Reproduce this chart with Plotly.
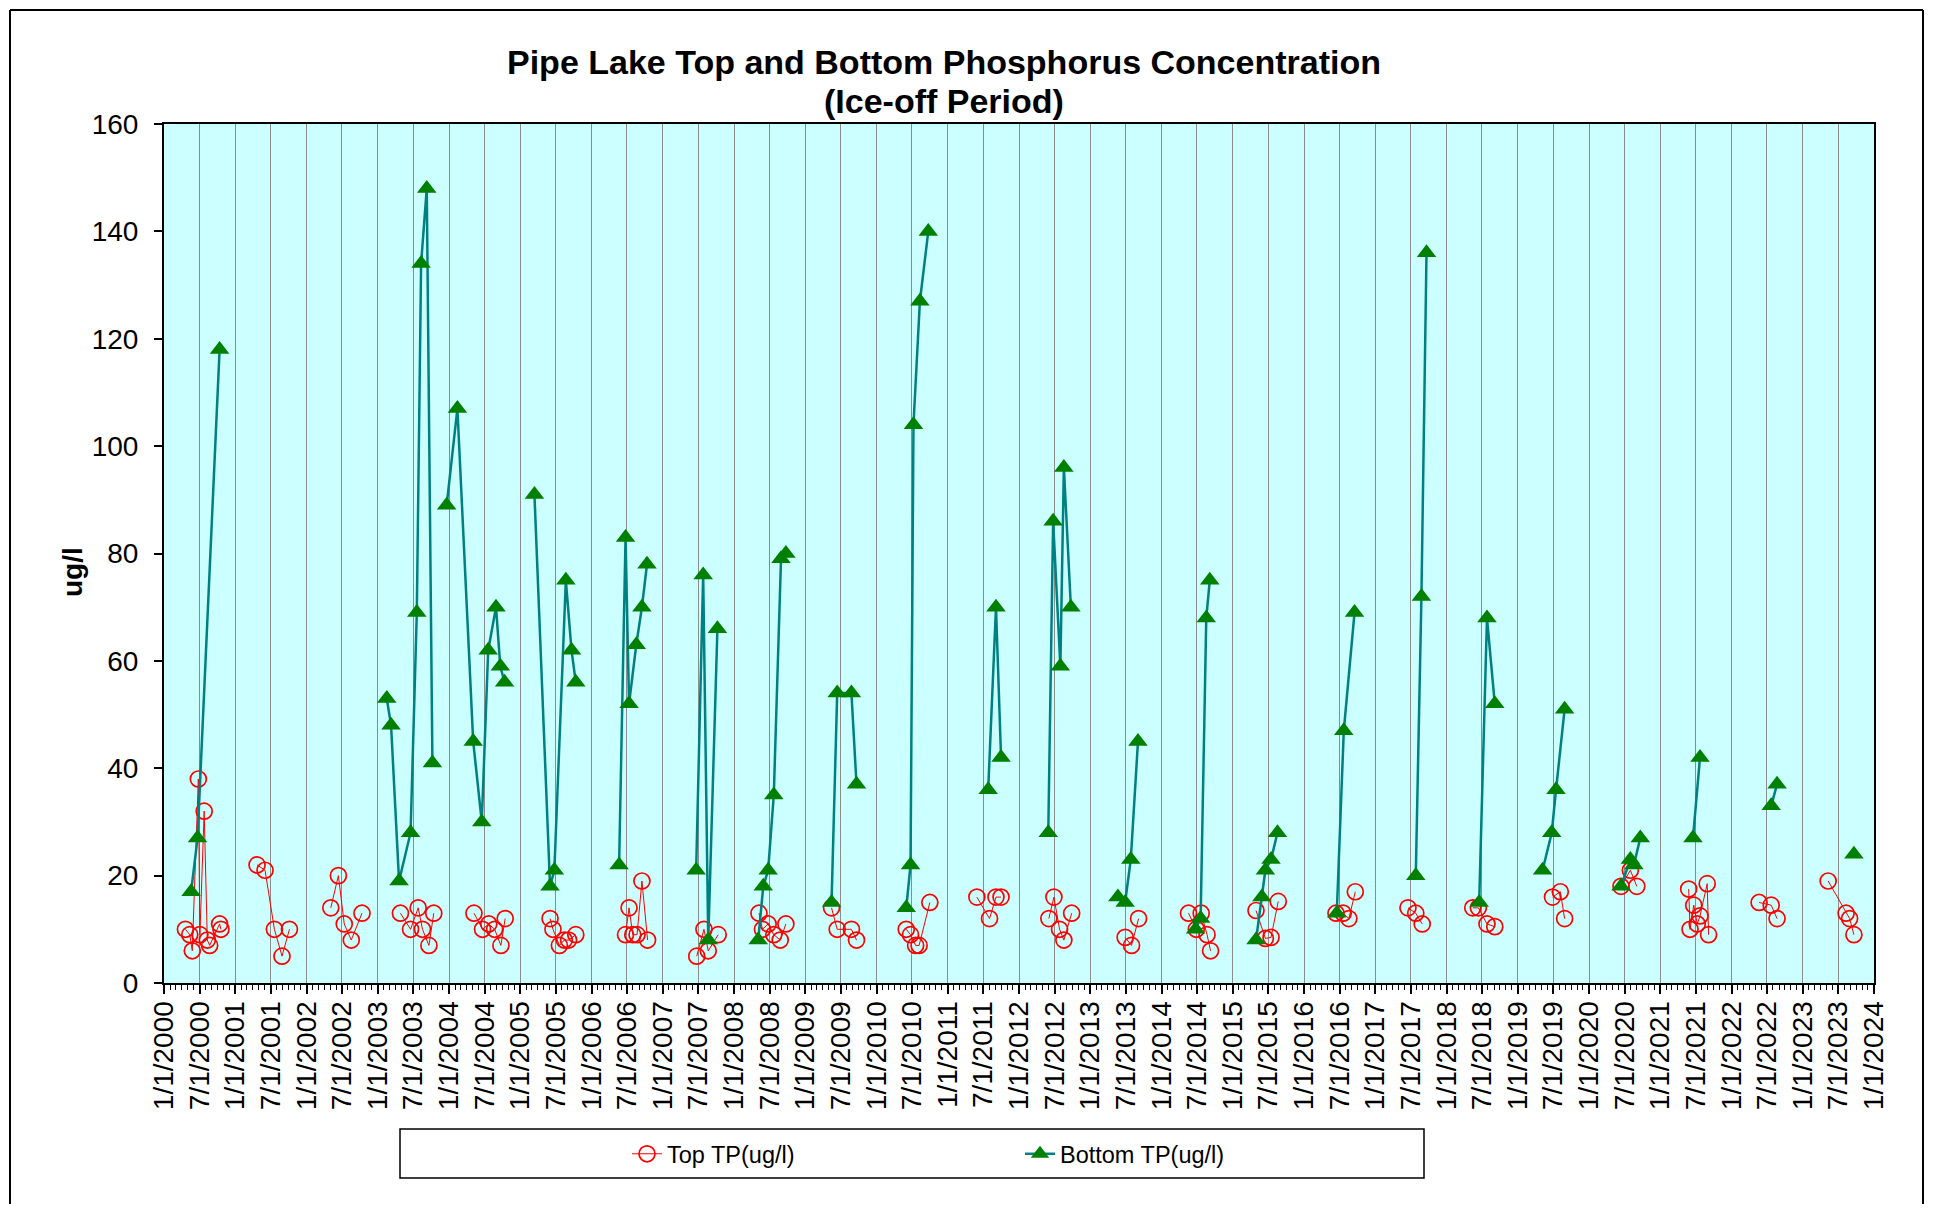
import plotly.graph_objects as go

# ---------------- data (None marks a break between seasons) ----------------
top_dates = [
    "2000-04-20", "2000-05-12", "2000-05-25", "2000-06-25", "2000-07-03", "2000-07-25",
    "2000-08-10", "2000-08-22", "2000-10-12", "2000-10-19", "2000-12-31",
    "2001-04-22", "2001-06-02", "2001-07-20", "2001-08-28", "2001-10-05", "2001-12-31",
    "2002-05-05", "2002-06-13", "2002-07-13", "2002-08-18", "2002-10-12", "2002-12-31",
    "2003-04-27", "2003-06-18", "2003-07-27", "2003-08-18", "2003-09-20", "2003-10-15", "2003-12-31",
    "2004-05-08", "2004-06-21", "2004-07-23", "2004-08-22", "2004-09-23", "2004-10-15", "2004-12-31",
    "2005-06-02", "2005-06-17", "2005-07-20", "2005-08-14", "2005-09-05", "2005-10-12", "2005-12-31",
    "2006-06-24", "2006-07-12", "2006-07-31", "2006-08-22", "2006-09-16", "2006-10-15", "2006-12-31",
    "2007-06-24", "2007-07-31", "2007-08-22", "2007-10-12", "2007-12-31",
    "2008-05-08", "2008-05-26", "2008-06-24", "2008-07-23", "2008-08-25", "2008-09-23", "2008-12-31",
    "2009-05-15", "2009-06-13", "2009-08-25", "2009-09-20", "2009-12-31",
    "2010-06-02", "2010-06-24", "2010-07-20", "2010-08-07", "2010-10-01", "2010-12-31",
    "2011-05-30", "2011-08-03", "2011-09-05", "2011-10-01", "2011-12-31",
    "2012-06-02", "2012-06-28", "2012-07-27", "2012-08-18", "2012-09-27", "2012-12-31",
    "2013-06-28", "2013-07-31", "2013-09-05", "2013-12-31",
    "2014-05-19", "2014-06-28", "2014-07-23", "2014-08-22", "2014-09-09", "2014-12-31",
    "2015-04-30", "2015-06-17", "2015-07-16", "2015-08-22", "2015-12-31",
    "2016-06-13", "2016-07-20", "2016-08-18", "2016-09-20", "2016-12-31",
    "2017-06-17", "2017-07-27", "2017-08-29", "2017-12-31",
    "2018-05-15", "2018-06-13", "2018-07-27", "2018-09-05", "2018-12-31",
    "2019-06-28", "2019-08-07", "2019-08-29", "2019-12-31",
    "2020-06-13", "2020-07-31", "2020-09-02", "2020-12-31",
    "2021-05-26", "2021-06-02", "2021-06-21", "2021-07-09", "2021-07-23", "2021-08-29", "2021-09-05",
    "2021-12-31",
    "2022-05-22", "2022-07-23", "2022-08-22", "2022-12-31",
    "2023-05-11", "2023-08-11", "2023-08-29", "2023-09-20",
]
top_vals = [
    10, 9, 6, 38, 9, 32, 8, 7, 11, 10, None,
    22, 21, 10, 5, 10, None,
    14, 20, 11, 8, 13, None,
    13, 10, 14, 10, 7, 13, None,
    13, 10, 11, 10, 7, 12, None,
    12, 10, 7, 8, 8, 9, None,
    9, 14, 9, 9, 19, 8, None,
    5, 10, 6, 9, None,
    13, 10, 11, 9, 8, 11, None,
    14, 10, 10, 8, None,
    10, 9, 7, 7, 15, None,
    16, 12, 16, 16, None,
    12, 16, 10, 8, 13, None,
    8.5, 7, 12, None,
    13, 10, 13, 9, 6, None,
    13.5, 8.3, 8.5, 15.2, None,
    13, 13, 12, 17, None,
    14, 13, 11, None,
    14, 14, 11, 10.5, None,
    16, 17, 12, None,
    18, 21, 18, None,
    17.5, 10, 14.5, 11, 12.5, 18.5, 9, None,
    15, 14.5, 12, None,
    19, 13, 12, 9,
]

bot_dates = [
    "2000-05-19", "2000-06-21", "2000-10-12", "2000-12-31",
    "2003-02-16", "2003-03-10", "2003-04-20", "2003-06-18", "2003-07-20", "2003-08-11",
    "2003-09-09", "2003-10-08", "2003-11-30",
    "2003-12-20", "2004-02-13", "2004-05-04", "2004-06-17", "2004-07-20", "2004-08-29",
    "2004-09-20", "2004-10-12", "2004-12-31",
    "2005-03-14", "2005-06-02", "2005-06-24", "2005-08-22", "2005-09-20", "2005-10-12", "2005-12-31",
    "2006-05-22", "2006-06-24", "2006-07-12", "2006-08-18", "2006-09-16", "2006-10-12", "2006-12-31",
    "2007-06-21", "2007-07-27", "2007-08-22", "2007-10-08", "2007-12-31",
    "2008-05-04", "2008-05-30", "2008-06-24", "2008-07-23", "2008-08-29", "2008-09-23", "2008-12-31",
    "2009-05-15", "2009-06-13", "2009-08-25", "2009-09-20", "2009-12-31",
    "2010-06-02", "2010-06-24", "2010-07-09", "2010-08-11", "2010-09-23", "2010-12-31",
    "2011-07-27", "2011-09-05", "2011-10-01", "2011-12-31",
    "2012-05-30", "2012-06-24", "2012-07-31", "2012-08-18", "2012-09-23", "2012-12-31",
    "2013-05-22", "2013-06-28", "2013-07-27", "2013-09-02", "2013-12-31",
    "2014-06-24", "2014-07-20", "2014-08-18", "2014-09-05", "2014-12-31",
    "2015-04-30", "2015-05-30", "2015-06-17", "2015-07-16", "2015-08-18", "2015-12-31",
    "2016-06-17", "2016-07-23", "2016-09-16", "2016-12-31",
    "2017-07-27", "2017-08-25", "2017-09-20", "2017-12-31",
    "2018-06-17", "2018-07-27", "2018-09-05", "2018-12-31",
    "2019-05-08", "2019-06-24", "2019-07-16", "2019-08-29", "2019-12-31",
    "2020-06-13", "2020-07-31", "2020-08-18", "2020-09-20", "2020-12-31",
    "2021-06-17", "2021-07-23", "2021-12-31",
    "2022-07-23", "2022-08-22", "2022-12-31",
    "2023-09-20",
]
bot_vals = [
    17, 27, 118, None,
    53, 48, 19, 28, 69, 134, 148, 41, None,
    89, 107, 45, 30, 62, 70, 59, 56, None,
    91, 18, 21, 75, 62, 56, None,
    22, 83, 52, 63, 70, 78, None,
    21, 76, 8, 66, None,
    8, 18, 21, 35, 79, 80, None,
    15, 54, 54, 37, None,
    14, 22, 104, 127, 140, None,
    36, 70, 42, None,
    28, 86, 59, 96, 70, None,
    16, 15, 23, 45, None,
    10, 12, 68, 75, None,
    8, 16, 21, 23, 28, None,
    13, 47, 69, None,
    20, 72, 136, None,
    15, 68, 52, None,
    21, 28, 36, 51, None,
    18, 23, 22, 27, None,
    27, 42, None,
    33, 37, None,
    24,
]

tick_years = list(range(2000, 2024)) + [2024]
tick_months = [1, 7]
tick_vals = []
tick_text = []
for yr in tick_years:
    for mo in tick_months:
        if yr == 2024 and mo == 7:
            continue
        tick_vals.append(f"{yr}-{mo:02d}-01")
        tick_text.append(f"{mo}/1/{yr}")

y_ticks = [0, 20, 40, 60, 80, 100, 120, 140, 160]

title_line1 = "Pipe Lake Top and Bottom Phosphorus Concentration"
title_line2 = "(Ice-off Period)"

FONT = "Arial, Liberation Sans, sans-serif"

fig = go.Figure()
fig.add_trace(go.Scatter(
    x=top_dates, y=top_vals, mode="lines+markers", name="Top TP(ug/l)",
    line=dict(color="#FF0000", width=1),
    marker=dict(symbol="circle-open", size=16, color="#FF0000", line=dict(width=1.7, color="#FF0000")),
    connectgaps=False,
))
fig.add_trace(go.Scatter(
    x=bot_dates, y=bot_vals, mode="lines+markers", name="Bottom TP(ug/l)",
    line=dict(color="#008080", width=2.5),
    marker=dict(symbol="triangle-up", size=17, color="#008000", line=dict(width=0)),
    connectgaps=False,
))

# page geometry (the html body adds an 8px offset)
OFF = 8
W, H = 1937 - 2 * OFF, 1224 - 2 * OFF - 12
PL, PR, PT, PB = 164, 1874, 124, 983  # plot area in page pixels
L, T = PL - OFF, PT - OFF
R = W - (PR - OFF)
B = H - (PB - OFF)


def px(xp):
    return (xp - PL) / (PR - PL)


def py(yp):
    return (PB - yp) / (PB - PT)


fig.update_layout(
    width=W, height=H,
    margin=dict(l=L, r=R, t=T, b=B, pad=0),
    paper_bgcolor="white",
    plot_bgcolor="#CCFFFF",
    font=dict(family=FONT, color="black"),
    showlegend=True,
    legend=dict(
        orientation="h", x=px(627), xanchor="left", y=py(1154), yanchor="middle",
        font=dict(size=23.5, family=FONT), bgcolor="rgba(0,0,0,0)", borderwidth=0,
        entrywidth=348, entrywidthmode="pixels",
    ),
    xaxis=dict(
        type="date", range=["2000-01-01", "2024-01-01"],
        tickmode="array", tickvals=tick_vals, ticktext=tick_text, tickangle=-90,
        tickfont=dict(size=28, family=FONT),
        showgrid=True, gridcolor="#8C8C8C", gridwidth=1,
        showline=True, linecolor="black", linewidth=2, mirror=True,
        ticks="outside", ticklen=9, tickcolor="black", tickwidth=1.5,
        minor=dict(tickmode="linear", tick0="2000-01-01", dtick="M1", ticks="outside",
                   ticklen=5, tickcolor="black", tickwidth=1, showgrid=False),
        zeroline=False, ticklabelstandoff=-4,
    ),
    yaxis=dict(
        range=[0, 160], tickmode="array", tickvals=y_ticks,
        tickfont=dict(size=28, family=FONT),
        showgrid=False, showline=True, linecolor="black", linewidth=2, mirror=True,
        ticks="outside", ticklen=8, tickcolor="black", tickwidth=1.5,
        zeroline=False, ticklabelstandoff=10,
    ),
)

fig.add_annotation(text=f"<b>{title_line1}</b>", xref="paper", yref="paper",
                   x=px(944), y=py(62), showarrow=False, xanchor="center", yanchor="middle",
                   font=dict(size=34, family=FONT))
fig.add_annotation(text=f"<b>{title_line2}</b>", xref="paper", yref="paper",
                   x=px(944), y=py(101), showarrow=False, xanchor="center", yanchor="middle",
                   font=dict(size=34, family=FONT))
fig.add_annotation(text="<b>ug/l</b>", xref="paper", yref="paper", textangle=-90,
                   x=px(72), y=py(572), showarrow=False, xanchor="center", yanchor="middle",
                   font=dict(size=28, family=FONT))

# legend box
fig.add_shape(type="rect", xref="paper", yref="paper",
              x0=px(400), x1=px(1424), y0=py(1129), y1=py(1178),
              line=dict(color="black", width=1.5), fillcolor="rgba(0,0,0,0)")
# outer chart border (top, left, right)
for (xa, ya, xb, yb) in [(10, 10, 1923, 10), (10, 10, 10, 1240), (1923, 10, 1923, 1240)]:
    fig.add_shape(type="line", xref="paper", yref="paper",
                  x0=px(xa), y0=py(ya), x1=px(xb), y1=py(yb),
                  line=dict(color="black", width=2), layer="below")

fig.write_html("out.html")
